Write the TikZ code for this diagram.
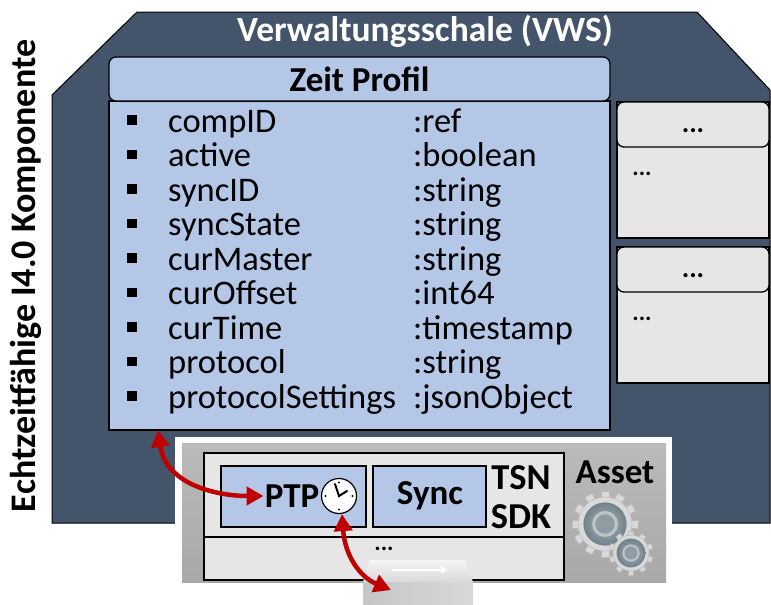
\documentclass[tikz,border=0pt]{standalone}
\usepackage{fontspec}
\setmainfont{Carlito}
\usetikzlibrary{arrows.meta,calc}

\definecolor{vwsdark}{HTML}{44546A}
\definecolor{profblue}{HTML}{B4C7E7}
\definecolor{panelgray}{HTML}{E7E6E6}
\definecolor{assetgray}{HTML}{A9A9A9}
\definecolor{linkred}{HTML}{C00000}
\definecolor{gearlight}{HTML}{D9D9D9}
\definecolor{gearedge}{HTML}{BBBBBB}
\definecolor{gearring}{HTML}{71828A}
\definecolor{gearhub}{HTML}{BCC4C8}

\begin{document}
\begin{tikzpicture}[x=1pt,y=-1pt,
  frame/.style={draw=black,line width=1.3pt,inner sep=0pt,outer sep=0pt},
  attr/.style={anchor=base west,inner sep=0pt,font=\fontsize{34.5}{38}\selectfont},
  bulletsq/.style={fill=black,minimum size=9.5pt,inner sep=0pt},
  biglabel/.style={inner sep=1pt,font=\bfseries\fontsize{35}{40}\selectfont},
  dots/.style={inner sep=0pt,font=\bfseries\fontsize{28}{32}\selectfont},
  link/.style={linkred,line width=4.5pt,
    {Triangle[length=17pt,width=18pt]}-{Triangle[length=17pt,width=18pt]}}]

\useasboundingbox (0,0) rectangle (771,605);

% outer shell of the component
\draw[fill=vwsdark,line width=1pt] (52,95) -- (137,12) -- (697,12) -- (770,90)
  -- (770,523) -- (52,523) -- cycle;
\node[inner sep=0pt,text=white,font=\bfseries\fontsize{35.5}{40}\selectfont]
  (vws) at (425,31) {Verwaltungsschale (VWS)};

% side label
\node[rotate=90,inner sep=0pt,font=\bfseries\fontsize{36}{40}\selectfont]
  (comp) at (26,276) {Echtzeitfähige I4.0 Komponente};

% time profile submodel
\node[frame,fill=profblue,minimum width=501pt,minimum height=329pt]
  (zpbody) at (359.5,265.5) {};
\node[frame,fill=profblue,rounded corners=7pt,minimum width=501pt,minimum height=44pt,
  font=\bfseries\fontsize{35}{40}\selectfont] (zphead) at (359.5,79) {Zeit Profil};

\foreach \n/\t [count=\i from 0] in {compID/:ref,active/:boolean,syncID/:string,
    syncState/:string,curMaster/:string,curOffset/:int64,curTime/:timestamp,
    protocol/:string,protocolSettings/:jsonObject}{
  \node[bulletsq] (bul\i) at (132,{120+34.5*\i}) {};
  \node[attr] (name\i) at (168,{132+34.5*\i}) {\n};
  \node[attr] (type\i) at (413,{132+34.5*\i}) {\t};
}

% further submodels
\foreach \y [count=\k] in {102,247}{
  \node[frame,fill=panelgray,minimum width=152pt,minimum height=136pt,anchor=north west]
    (sub\k) at (617,\y) {};
  \node[frame,fill=panelgray,rounded corners=7pt,minimum width=152pt,minimum height=45pt,
    anchor=north west] (subhead\k) at (617,\y) {};
  \node[dots] (subtitle\k) at (693,\y+29) {...};
  \node[dots,font=\bfseries\fontsize{24}{28}\selectfont] (subitem\k) at (642,\y+72) {...};
}

% asset with TSN SDK
\node[fill=white,inner sep=0pt,minimum width=497pt,minimum height=160pt,anchor=north west]
  (assetframe) at (175,437) {};
\node[inner sep=0pt,minimum width=484pt,minimum height=139pt,anchor=north west,
  top color=assetgray!80!white,bottom color=assetgray] (asset) at (182,443) {};
\node[frame,fill=panelgray,minimum width=360pt,minimum height=127pt,anchor=north west]
  (sdk) at (204,453) {};
\draw[line width=1.3pt] (sdk.west |- 0,537) -- (sdk.east |- 0,537);
\node[frame,fill=profblue,minimum width=145pt,minimum height=61pt,anchor=north west]
  (ptpbox) at (221,466) {};
\node[frame,fill=profblue,minimum width=113pt,minimum height=61pt,anchor=north west]
  (syncbox) at (373,466) {};
\node[biglabel] (ptp) at (292,496) {PTP};
\node[biglabel] (sync) at (430,496) {Sync};
\node[biglabel,font=\bfseries\fontsize{36.5}{40}\selectfont] (tsn) at (521,478) {TSN};
\node[biglabel,font=\bfseries\fontsize{36.5}{40}\selectfont] (sdklabel) at (521,517) {SDK};
\node[dots,font=\bfseries\fontsize{24}{28}\selectfont] (more) at (384,549) {...};
\node[biglabel,font=\bfseries\fontsize{35}{40}\selectfont] (assetlabel) at (615,472) {Asset};

% clock
\node[circle,draw,fill=white,line width=1.2pt,minimum size=35pt,inner sep=0pt]
  (clock) at (339,496) {};
\foreach \a in {0,90,180,270}
  \fill ([shift={(\a:13.5)}]clock.center) circle (1.1pt);
\draw[line width=2pt,line cap=round] ([shift={(-4,-12)}]clock.center) -- (clock.center)
  -- ([shift={(8,-5)}]clock.center);

% gears
\foreach \cx/\cy/\r/\n in {605/524/27/12, 631/553/18/10}{
  \begin{scope}[shift={(\cx,\cy)}]
    \foreach \a in {1,...,\n}
      \fill[gearlight,draw=gearedge,line width=0.5pt,rotate={360/\n*\a}]
        (-0.15*\r,0.8*\r) rectangle (0.15*\r,1.22*\r);
    \fill[gearlight,draw=gearedge,line width=0.5pt] (0,0) circle (\r);
    \shade[inner color=gearring!60!white,outer color=gearring] (0,0) circle (0.8*\r);
    \fill[gearhub] (0,0) circle (0.48*\r);
    \fill[gearring!60!gearhub] (0,0) circle (0.36*\r);
  \end{scope}
}

% network switch
\shade[top color=gray!8,bottom color=gray!30] (370,560) -- (465,560) -- (473,582)
  -- (363,582) -- cycle;
\shade[left color=gray!45,right color=gray!30] (363,582) rectangle (473,610);
\draw[white,line width=2pt,-{Triangle[length=7pt,width=8pt]}] (392,570) -- (448,570);
\coordinate (switch) at (391,590);

% connectors
\draw[link] ([xshift=49pt]zpbody.south west) .. controls (166,486) and (220,496)
  .. (ptp.west);
\draw[link] ([xshift=3pt]clock.south) .. controls (345,556) and (360,577) .. (switch);

\end{tikzpicture}
\end{document}
